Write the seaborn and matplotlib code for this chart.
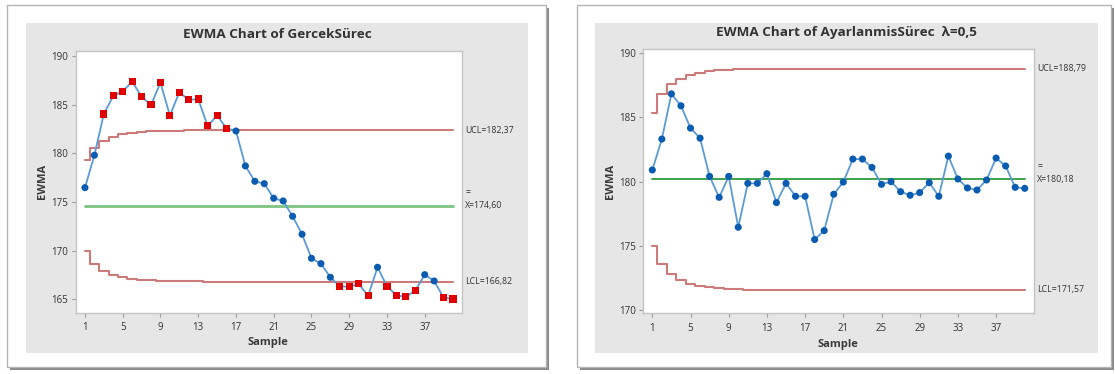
import matplotlib
matplotlib.use("Agg")
import matplotlib.pyplot as plt
import matplotlib.transforms as mtransforms
from matplotlib.patches import Rectangle
import seaborn as sns
import pandas as pd

# ---------------- data ----------------
samples = list(range(1, 41))
x_ticks = [1, 5, 9, 13, 17, 21, 25, 29, 33, 37]

left_title = "EWMA Chart of GercekSürec"
left_ewma = [176.47, 179.80, 184.04, 185.89, 186.37, 187.36, 185.82, 184.97, 187.26, 183.87,
             186.27, 185.48, 185.58, 182.81, 183.87, 182.57, 182.29, 178.70, 177.12, 176.88,
             175.38, 175.10, 173.53, 171.68, 169.21, 168.66, 167.26, 166.34, 166.27, 166.61,
             165.34, 168.29, 166.34, 165.41, 165.24, 165.89, 167.53, 166.88, 165.17, 165.03]
left_ucl = [179.26, 180.57, 181.28, 181.69, 181.94, 182.10, 182.20, 182.26, 182.30, 182.33,
            182.34, 182.35, 182.36, 182.37, 182.37, 182.37, 182.37, 182.37, 182.37, 182.37,
            182.37, 182.37, 182.37, 182.37, 182.37, 182.37, 182.37, 182.37, 182.37, 182.37,
            182.37, 182.37, 182.37, 182.37, 182.37, 182.37, 182.37, 182.37, 182.37, 182.37]
left_lcl = [169.94, 168.63, 167.92, 167.51, 167.26, 167.10, 167.00, 166.94, 166.90, 166.87,
            166.86, 166.85, 166.84, 166.82, 166.82, 166.82, 166.82, 166.82, 166.82, 166.82,
            166.82, 166.82, 166.82, 166.82, 166.82, 166.82, 166.82, 166.82, 166.82, 166.82,
            166.82, 166.82, 166.82, 166.82, 166.82, 166.82, 166.82, 166.82, 166.82, 166.82]
left_center = 174.60
left_labels = ["UCL=182,37", "X=174,60", "LCL=166,82"]
left_yticks = [165, 170, 175, 180, 185, 190]

right_title = "EWMA Chart of AyarlanmisSürec  λ=0,5"
right_ewma = [180.91, 183.32, 186.84, 185.91, 184.17, 183.39, 180.41, 178.78, 180.41, 176.45,
              179.87, 179.87, 180.62, 178.37, 179.87, 178.86, 178.86, 175.49, 176.19, 179.02,
              179.97, 181.76, 181.76, 181.11, 179.79, 180.00, 179.22, 178.94, 179.15, 179.92,
              178.86, 181.99, 180.21, 179.51, 179.35, 180.13, 181.84, 181.22, 179.56, 179.48]
right_ucl = [185.35, 186.79, 187.58, 188.03, 188.32, 188.49, 188.60, 188.67, 188.71, 188.74,
             188.76, 188.77, 188.78, 188.79, 188.79, 188.79, 188.79, 188.79, 188.79, 188.79,
             188.79, 188.79, 188.79, 188.79, 188.79, 188.79, 188.79, 188.79, 188.79, 188.79,
             188.79, 188.79, 188.79, 188.79, 188.79, 188.79, 188.79, 188.79, 188.79, 188.79]
right_lcl = [175.01, 173.57, 172.78, 172.33, 172.04, 171.87, 171.76, 171.69, 171.65, 171.62,
             171.60, 171.59, 171.58, 171.57, 171.57, 171.57, 171.57, 171.57, 171.57, 171.57,
             171.57, 171.57, 171.57, 171.57, 171.57, 171.57, 171.57, 171.57, 171.57, 171.57,
             171.57, 171.57, 171.57, 171.57, 171.57, 171.57, 171.57, 171.57, 171.57, 171.57]
right_center = 180.18
right_labels = ["UCL=188,79", "X=180,18", "LCL=171,57"]
right_yticks = [170, 175, 180, 185, 190]

# ---------------- style ----------------
sns.set_theme(style="white")
plt.rcParams['font.family'] = ['Open Sans', 'DejaVu Sans']

W, H = 1115, 374
fig = plt.figure(figsize=(W / 100, H / 100), dpi=100)
fig.patch.set_facecolor("white")


def frac(x0, y0, x1, y1):
    return [x0 / W, 1 - y1 / H, (x1 - x0) / W, (y1 - y0) / H]


def panel(box, grey):
    x0, y0, x1, y1 = box
    r = frac(x0 + 3, y0 + 3, x1 + 3, y1 + 3)
    fig.add_artist(Rectangle((r[0], r[1]), r[2], r[3], transform=fig.transFigure,
                             facecolor="#8a8a8a", edgecolor="none", zorder=-3))
    r = frac(*box)
    fig.add_artist(Rectangle((r[0], r[1]), r[2], r[3], transform=fig.transFigure,
                             facecolor="white", edgecolor="#b5b5b5", lw=1.0, zorder=-2))
    r = frac(*grey)
    fig.add_artist(Rectangle((r[0], r[1]), r[2], r[3], transform=fig.transFigure,
                             facecolor="#e6e6e6", edgecolor="none", zorder=-1))


LIM_COLOR = "#cc7a7a"
LINE_COLOR = "#5b9bd5"
BLUE = "#0a5cb0"
RED = "#e00000"
TXT = "#333333"


def draw(ax, ewma, ucl, lcl, center, labels, yticks, ylim, xlim, green, green_lw):
    sns.lineplot(x=samples, y=ucl, drawstyle="steps-mid", color=LIM_COLOR, lw=1.5, ax=ax)
    sns.lineplot(x=samples, y=lcl, drawstyle="steps-mid", color=LIM_COLOR, lw=1.5, ax=ax)
    sns.lineplot(x=[samples[0], samples[-1]], y=[center, center], color=green, lw=green_lw, ax=ax)
    sns.lineplot(x=samples, y=ewma, color=LINE_COLOR, lw=1.3, ax=ax)
    df = pd.DataFrame({"sample": samples, "ewma": ewma, "ucl": ucl, "lcl": lcl})
    df["status"] = ["out" if (v > u or v < l) else "in" for v, u, l in zip(ewma, ucl, lcl)]
    sns.scatterplot(data=df, x="sample", y="ewma", hue="status", style="status",
                    markers={"in": "o", "out": "s"}, palette={"in": BLUE, "out": RED},
                    s=26, edgecolor="none", legend=False, ax=ax, zorder=5)
    ax.set_xlim(*xlim)
    ax.set_ylim(*ylim)
    ax.set_xticks(x_ticks)
    ax.set_xticklabels([str(t) for t in x_ticks])
    ax.set_yticks(yticks)
    ax.set_yticklabels([str(t) for t in yticks])
    ax.set_xlabel("")
    ax.set_ylabel("")
    ax.tick_params(axis="both", direction="out", length=3, width=0.8, color="#9a9a9a",
                   labelsize=7, labelcolor=TXT, pad=2.5, bottom=True, left=True)
    ax.tick_params(axis="x", pad=4)
    for sp in ax.spines.values():
        sp.set_color("#c4c4c4")
        sp.set_linewidth(1.0)
    ax.set_facecolor("white")
    tr = mtransforms.blended_transform_factory(ax.transAxes, ax.transData)
    kw = dict(transform=tr, fontsize=6.3, color=TXT, va="center", ha="left")
    ax.text(1.008, ucl[-1], labels[0], **kw)
    ax.text(1.008, center, labels[1], **kw)
    ax.annotate("=", xy=(1.008, center), xycoords=tr, xytext=(0, 9.5),
                textcoords="offset points", fontsize=6.3, color=TXT, va="center", ha="left")
    ax.text(1.008, lcl[-1], labels[2], **kw)


# left panel
panel((7, 5, 546, 367), (26, 23, 528, 353))
axL = fig.add_axes(frac(76, 50.7, 462, 312.5))
draw(axL, left_ewma, left_ucl, left_lcl, left_center, left_labels, left_yticks,
     (163.64, 190.54), (0.05, 40.95), "#7cc47f", 2.0)
fig.text(277 / W, 1 - 34 / H, left_title, ha="center", va="center", fontsize=9.7,
         fontweight="bold", color=TXT)
fig.text(43 / W, 1 - 181 / H, "EWMA", rotation=90, ha="center", va="center",
         fontsize=8, fontweight="bold", color="#3a3a3a")
fig.text(268 / W, 1 - 342 / H, "Sample", ha="center", va="center",
         fontsize=8, fontweight="bold", color="#3a3a3a")

# right panel
panel((577, 5, 1111, 367), (595, 23, 1098, 353))
axR = fig.add_axes(frac(643.3, 49.3, 1034.3, 313))
draw(axR, right_ewma, right_ucl, right_lcl, right_center, right_labels, right_yticks,
     (169.77, 190.31), (0.057, 41.0), "#2e9b3e", 1.3)
fig.text(846 / W, 1 - 32.5 / H, right_title, ha="center", va="center", fontsize=9.7,
         fontweight="bold", color=TXT)
fig.text(611 / W, 1 - 181 / H, "EWMA", rotation=90, ha="center", va="center",
         fontsize=8, fontweight="bold", color="#3a3a3a")
fig.text(838 / W, 1 - 344 / H, "Sample", ha="center", va="center",
         fontsize=8, fontweight="bold", color="#3a3a3a")

fig.savefig("out.png", dpi=100, facecolor="white")
